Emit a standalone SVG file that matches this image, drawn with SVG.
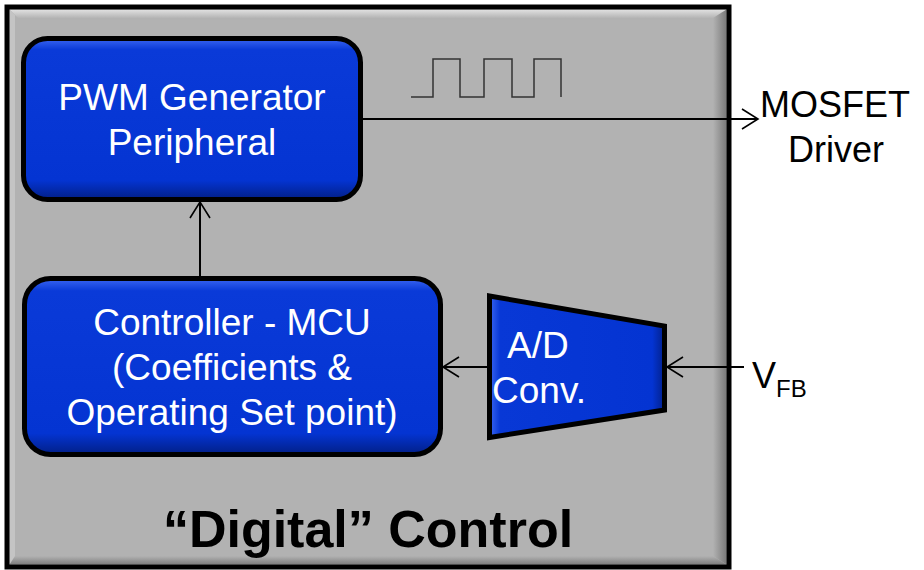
<svg xmlns="http://www.w3.org/2000/svg" width="924" height="570" viewBox="0 0 924 570">
  <defs>
    <linearGradient id="blueV" x1="0" y1="0" x2="0" y2="1">
      <stop offset="0" stop-color="#3A66F2"/>
      <stop offset="0.07" stop-color="#0A3AD8"/>
      <stop offset="0.88" stop-color="#0434D2"/>
      <stop offset="1" stop-color="#021F86"/>
    </linearGradient>
    <linearGradient id="blueH" x1="0" y1="0" x2="1" y2="0">
      <stop offset="0" stop-color="#3A66F2"/>
      <stop offset="0.06" stop-color="#0838D6"/>
      <stop offset="0.93" stop-color="#0434D2"/>
      <stop offset="1" stop-color="#02208A"/>
    </linearGradient>
    <linearGradient id="bevTop" x1="0" y1="0" x2="0" y2="1">
      <stop offset="0" stop-color="#E2E2E2"/>
      <stop offset="1" stop-color="#B4B4B4"/>
    </linearGradient>
    <linearGradient id="bevRight" x1="0" y1="0" x2="1" y2="0">
      <stop offset="0" stop-color="#B2B2B2"/>
      <stop offset="1" stop-color="#7A7A7A"/>
    </linearGradient>
    <linearGradient id="bevBottom" x1="0" y1="0" x2="0" y2="1">
      <stop offset="0" stop-color="#B2B2B2"/>
      <stop offset="1" stop-color="#7E7E7E"/>
    </linearGradient>
    <marker id="arr" markerWidth="20" markerHeight="24" refX="17" refY="11" orient="auto" markerUnits="userSpaceOnUse">
      <path d="M1,1 L17,11 L1,21" fill="none" stroke="#000" stroke-width="1.6"/>
    </marker>
  </defs>
  <style>
    .box { stroke: #000; stroke-width: 5; }
    .lbl { font-family: "Liberation Sans", Arial, sans-serif; font-size: 37px; fill: #FFFFFF; }
    .ext { font-family: "Liberation Sans", Arial, sans-serif; font-size: 36px; fill: #000000; }
    .title { font-family: "Liberation Sans", Arial, sans-serif; font-size: 52px; font-weight: bold; fill: #000000; }
    .conn { stroke: #000; stroke-width: 2; fill: none; }
  </style>

  <rect x="0" y="0" width="924" height="570" fill="#FFFFFF"/>

  <g id="digital-control">
    <rect x="7" y="7" width="722" height="560" fill="#B2B2B2"/>
    <polygon points="9.5,9.5 726.5,9.5 718,18 18,18" fill="url(#bevTop)"/>
    <polygon points="9.5,9.5 15,15 15,559 9.5,564.5" fill="#C4C4C4"/>
    <polygon points="726.5,9.5 726.5,564.5 713,556 713,18" fill="url(#bevRight)"/>
    <polygon points="9.5,564.5 726.5,564.5 713,556 15,556" fill="url(#bevBottom)"/>
    <rect x="7" y="7" width="722" height="560" fill="none" stroke="#000" stroke-width="5"/>
    <text class="title" x="368" y="547" text-anchor="middle">“Digital” Control</text>
  </g>

  <g id="pwm">
    <rect class="box" x="23.5" y="38.5" width="337" height="161" rx="24" fill="url(#blueV)"/>
    <text class="lbl" x="192" y="110" text-anchor="middle">PWM Generator</text>
    <text class="lbl" x="192" y="155" text-anchor="middle">Peripheral</text>
  </g>

  <g id="controller">
    <rect class="box" x="24.5" y="278.5" width="416" height="176" rx="26" fill="url(#blueV)"/>
    <text class="lbl" x="232" y="335" text-anchor="middle">Controller - MCU</text>
    <text class="lbl" x="232" y="380" text-anchor="middle">(Coefficients &amp;</text>
    <text class="lbl" x="232" y="425" text-anchor="middle">Operating Set point)</text>
  </g>

  <g id="adc">
    <polygon class="box" points="489.5,296 664.5,326 664.5,410 489.5,437.5" fill="url(#blueH)"/>
    <text class="lbl" x="507" y="358">A/D</text>
    <text class="lbl" x="492" y="403">Conv.</text>
  </g>

  <g id="waveform">
    <path d="M411,97 H433 V59 H460 V97 H484 V59 H512 V97 H534 V59 H561 V97" fill="none" stroke="#333333" stroke-width="1.5"/>
  </g>

  <g id="mosfet-driver">
    <text class="ext" x="835" y="117" text-anchor="middle">MOSFET</text>
    <text class="ext" x="836" y="162" text-anchor="middle">Driver</text>
  </g>

  <g id="vfb">
    <text class="ext" x="752" y="388">V<tspan font-size="24" dy="9">FB</tspan></text>
  </g>

  <g id="connectors">
    <line class="conn" x1="363" y1="119" x2="758" y2="119" marker-end="url(#arr)"/>
    <line class="conn" x1="200" y1="276" x2="200" y2="202" marker-end="url(#arr)"/>
    <line class="conn" x1="487" y1="367" x2="443" y2="367" marker-end="url(#arr)"/>
    <line class="conn" x1="744" y1="367" x2="667" y2="367" marker-end="url(#arr)"/>
  </g>
</svg>
